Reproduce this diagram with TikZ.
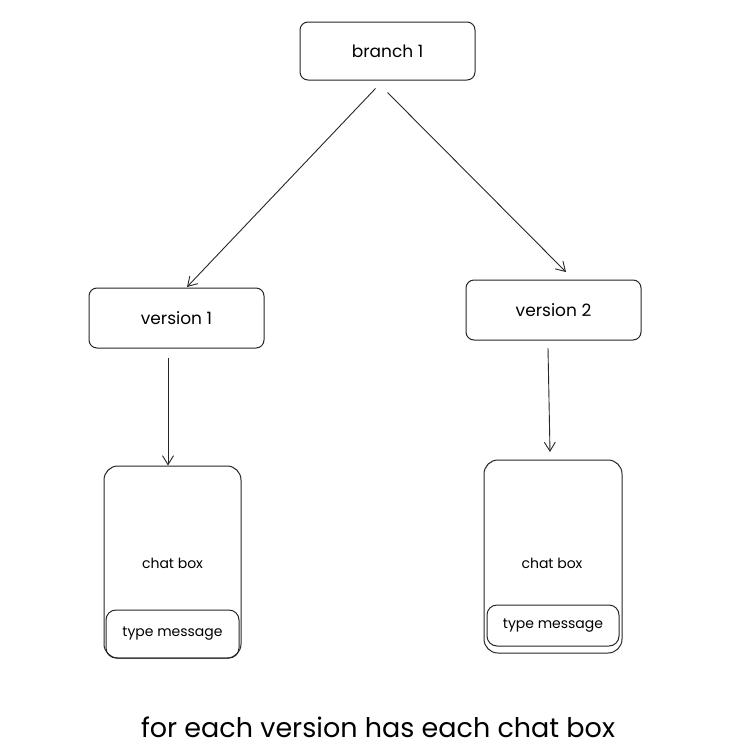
\documentclass[tikz,border=0pt]{standalone}
\usepackage{fontspec}
\setmainfont{Poppins}
\usetikzlibrary{arrows.meta}
\begin{document}
\begin{tikzpicture}[x=1pt,y=-1pt,
  box/.style={draw=black!85, line width=1pt, rounded corners=8pt},
  lbl/.style={font=\fontsize{17}{20}\selectfont},
  small/.style={font=\fontsize{14}{16}\selectfont},
  link/.style={draw=black!85, line width=0.9pt, -{Straight Barb[length=9pt,width=11pt]}}]

\useasboundingbox (0,0) rectangle (742,747);

% === top ===
\node[box, minimum width=175pt, minimum height=58pt, lbl] (branch) at (387.5,51) {branch 1};

% === versions ===
\node[box, minimum width=175pt, minimum height=60pt, lbl] (vone) at (176.5,318) {version 1};
\node[box, minimum width=175pt, minimum height=60pt, lbl] (vtwo) at (553.5,310) {version 2};

% === chat boxes ===
\node[box, rounded corners=14pt, minimum width=137pt, minimum height=192pt] (chatone) at (172.5,562) {};
\node[small] (chatonetext) at (172.5,563) {chat box};
\node[box, rounded corners=10pt, minimum width=133pt, minimum height=48pt, small] (typeone) at (172.5,634) {type message};

\node[box, rounded corners=14pt, minimum width=138pt, minimum height=193pt] (chattwo) at (553,556.5) {};
\node[small] (chattwotext) at (552,563) {chat box};
\node[box, rounded corners=10pt, minimum width=132pt, minimum height=41pt, small] (typetwo) at (553,625.5) {type message};

% === arrows ===
\draw[link] (branch.south) ++(-12,8) coordinate (b1) -- (187,287);
\draw[link] (branch.south) ++(0,12) coordinate (b2) -- (566,272);
\draw[link] (168,358) -- (chatone.north -| 168,0);
\draw[link] (548,348) -- (550,452);

% === caption ===
\node[font=\fontsize{27}{30}\selectfont] (caption) at (378,727) {for each version has each chat box};

\end{tikzpicture}
\end{document}
